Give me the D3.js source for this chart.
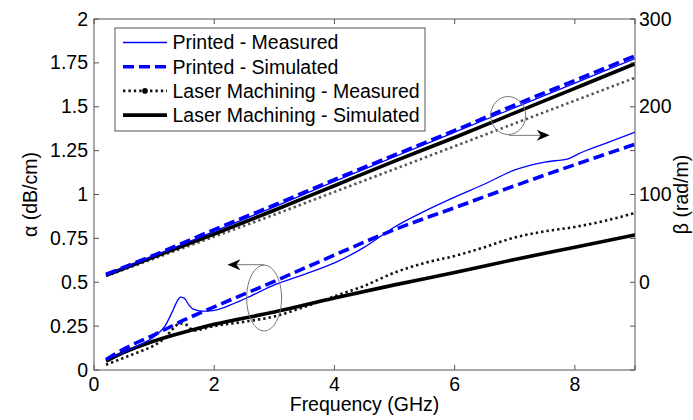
<!DOCTYPE html>
<html>
<head>
<meta charset="utf-8">
<script src="https://cdn.jsdelivr.net/npm/d3@7"></script>
<style>
  html, body { margin: 0; padding: 0; background: #fff; }
  svg { display: block; font-family: "Liberation Sans", Arial, sans-serif; }
</style>
</head>
<body>
<svg id="chart" width="693" height="420"></svg>
<script>
// alpha (left axis, dB/cm) and beta (right axis, rad/m) vs frequency (GHz)
const pmAlphaF = [0.2,0.5,0.8,1.0,1.18,1.3,1.38,1.44,1.5,1.58,1.66,1.8,2.0,2.3,2.6,3.0,3.5,4.0,4.5,5.0,5.5,6.0,6.5,7.0,7.5,7.9,8.05,8.5,9.0];
const pmAlpha  = [0.06,0.10,0.15,0.19,0.25,0.33,0.39,0.415,0.41,0.37,0.345,0.335,0.34,0.375,0.42,0.485,0.545,0.61,0.70,0.815,0.905,0.985,1.06,1.14,1.185,1.205,1.23,1.29,1.355];
const psAlphaF = [0.2,0.5,1,1.5,2,3,4,5,6,7,8,9];
const psAlpha  = [0.06,0.12,0.2,0.285,0.36,0.505,0.655,0.8,0.925,1.05,1.17,1.286];
const lmAlphaF = [0.2,0.5,0.8,1.0,1.2,1.3,1.43,1.55,1.65,2.0,2.5,3.0,3.5,3.8,4.0,4.5,5.0,5.5,6.0,6.5,7.0,7.5,8.0,8.5,9.0];
const lmAlpha  = [0.03,0.07,0.11,0.14,0.19,0.23,0.265,0.255,0.225,0.25,0.275,0.305,0.36,0.395,0.42,0.48,0.555,0.61,0.65,0.70,0.755,0.79,0.815,0.85,0.895];
const lsAlphaF = [0.2,0.5,1,1.6,2,3,4,5,6,7,8,9];
const lsAlpha  = [0.05,0.1,0.165,0.225,0.26,0.33,0.41,0.485,0.555,0.63,0.70,0.77];

const betaF  = [0.2,1,2,3,4,5,6,7,8,9];
const psBeta = [9,31,60,88,117,145,173,202,230,258];
const pmBeta = [8,30,58,86,115,143,171,199,227,255];
const lsBeta = [8,29,55,82,110,138,165,193,221,249];
const lmBeta = [7,27,52,77,103,129,155,181,207,233];

const xTicks = [0,2,4,6,8];
const alphaTicks = [0,0.25,0.5,0.75,1,1.25,1.5,1.75,2];
const betaTicks = [-100,-50,0,50,100,150,200,250,300];
const betaLabels = [0,100,200,300];

const LEGEND = ["Printed - Measured","Printed - Simulated",
                "Laser Machining - Measured","Laser Machining - Simulated"];

const m = {l: 94, r: 635, t: 19, b: 370};
const FS = 19.5, AX = "#555";

const svg = d3.select("#chart");
const x = d3.scaleLinear([0, 9], [m.l, m.r]);
const yA = d3.scaleLinear([0, 2], [m.b, m.t]);
const yB = d3.scaleLinear([-100, 300], [m.b, m.t]);

const STYLE = {
  pm: {stroke: "#0000ff", width: 1.3, dash: null},
  ps: {stroke: "#0000ff", width: 3.6, dash: "11 5"},
  lm: {stroke: "#111", width: 2.6, dash: "2.4 3"},
  ls: {stroke: "#000", width: 3.6, dash: null}
};

svg.append("defs").append("clipPath").attr("id", "clip")
  .append("rect").attr("x", m.l).attr("y", m.t)
  .attr("width", m.r - m.l).attr("height", m.b - m.t);

const plot = svg.append("g").attr("clip-path", "url(#clip)");

function draw(fs, vs, y, st, color) {
  const line = d3.line().curve(d3.curveMonotoneX)
    .x((d) => x(d[0])).y((d) => y(d[1]));
  plot.append("path").datum(fs.map((f, i) => [f, vs[i]]))
    .attr("d", line).attr("fill", "none")
    .attr("stroke", color || st.stroke).attr("stroke-width", st.width)
    .attr("stroke-dasharray", st.dash);
}

// beta group (right axis)
draw(betaF, lmBeta, yB, STYLE.lm, "#555");
draw(betaF, lsBeta, yB, STYLE.ls);
draw(betaF, pmBeta, yB, STYLE.pm);
draw(betaF, psBeta, yB, STYLE.ps);
// alpha group (left axis)
draw(lmAlphaF, lmAlpha, yA, STYLE.lm);
draw(lsAlphaF, lsAlpha, yA, STYLE.ls);
draw(pmAlphaF, pmAlpha, yA, STYLE.pm);
draw(psAlphaF, psAlpha, yA, STYLE.ps);

// frame and ticks
const ax = svg.append("g").attr("stroke", AX).attr("stroke-width", 1);
ax.append("rect").attr("x", m.l).attr("y", m.t)
  .attr("width", m.r - m.l).attr("height", m.b - m.t).attr("fill", "none");
const TL = 5;
xTicks.concat([9]).forEach((t) => {
  ax.append("line").attr("x1", x(t)).attr("x2", x(t)).attr("y1", m.b).attr("y2", m.b - TL);
  ax.append("line").attr("x1", x(t)).attr("x2", x(t)).attr("y1", m.t).attr("y2", m.t + TL);
});
alphaTicks.forEach((t) => {
  ax.append("line").attr("x1", m.l).attr("x2", m.l + TL).attr("y1", yA(t)).attr("y2", yA(t));
});
betaTicks.forEach((t) => {
  ax.append("line").attr("x1", m.r).attr("x2", m.r - TL).attr("y1", yB(t)).attr("y2", yB(t));
});

const txt = svg.append("g").attr("font-size", FS).attr("fill", "#000");
xTicks.forEach((t) => txt.append("text").attr("x", x(t)).attr("y", m.b + 21)
  .attr("text-anchor", "middle").text(t));
alphaTicks.forEach((t) => txt.append("text").attr("x", m.l - 6).attr("y", yA(t) + 6.5)
  .attr("text-anchor", "end").text(t));
betaLabels.forEach((t) => txt.append("text").attr("x", m.r + 4).attr("y", yB(t) + 6.5)
  .attr("text-anchor", "start").text(t));
txt.append("text").attr("x", (m.l + m.r) / 2).attr("y", 411)
  .attr("text-anchor", "middle").text("Frequency (GHz)");
txt.append("text").attr("transform", `translate(37,${(m.t + m.b) / 2}) rotate(-90)`)
  .attr("text-anchor", "middle").text("\u03b1 (dB/cm)");
txt.append("text").attr("transform", `translate(688,${(m.t + m.b) / 2}) rotate(-90)`)
  .attr("text-anchor", "middle").text("\u03b2 (rad/m)");

// annotations: ellipses + arrows
const ann = svg.append("g");
function note(cf, ca, rx, ry, fromF, fromA, toF) {
  ann.append("ellipse").attr("cx", x(cf)).attr("cy", yA(ca)).attr("rx", rx).attr("ry", ry)
    .attr("fill", "none").attr("stroke", "#777").attr("stroke-width", 1);
  const x0 = x(fromF), x1 = x(toF), yy = yA(fromA), dir = Math.sign(x1 - x0);
  ann.append("line").attr("x1", x0).attr("x2", x1 - dir * 6).attr("y1", yy).attr("y2", yy)
    .attr("stroke", "#777").attr("stroke-width", 1);
  ann.append("path").attr("fill", "#000")
    .attr("d", `M${x1},${yy} L${x1 - dir * 13},${yy - 5.5} L${x1 - dir * 9},${yy} L${x1 - dir * 13},${yy + 5.5} Z`);
}
note(2.83, 0.41, 17.5, 33, 2.83, 0.6, 2.22);
note(6.89, 1.45, 17.5, 19, 6.9, 1.337, 7.58);

// legend
const lg = svg.append("g");
lg.append("rect").attr("x", 115).attr("y", 28).attr("width", 310).attr("height", 103)
  .attr("fill", "#fff").attr("stroke", AX).attr("stroke-width", 1);
[STYLE.pm, STYLE.ps, STYLE.lm, STYLE.ls].forEach((st, i) => {
  const cy = 42.5 + i * 24.2;
  lg.append("line").attr("x1", 123).attr("x2", 167).attr("y1", cy).attr("y2", cy)
    .attr("stroke", st.stroke).attr("stroke-width", st.width)
    .attr("stroke-dasharray", st.dash);
  if (i === 2) lg.append("circle").attr("cx", 145).attr("cy", cy).attr("r", 2.8).attr("fill", "#000");
  lg.append("text").attr("x", 172.5).attr("y", cy + 6.8).attr("font-size", FS).text(LEGEND[i]);
});
</script>
</body>
</html>
